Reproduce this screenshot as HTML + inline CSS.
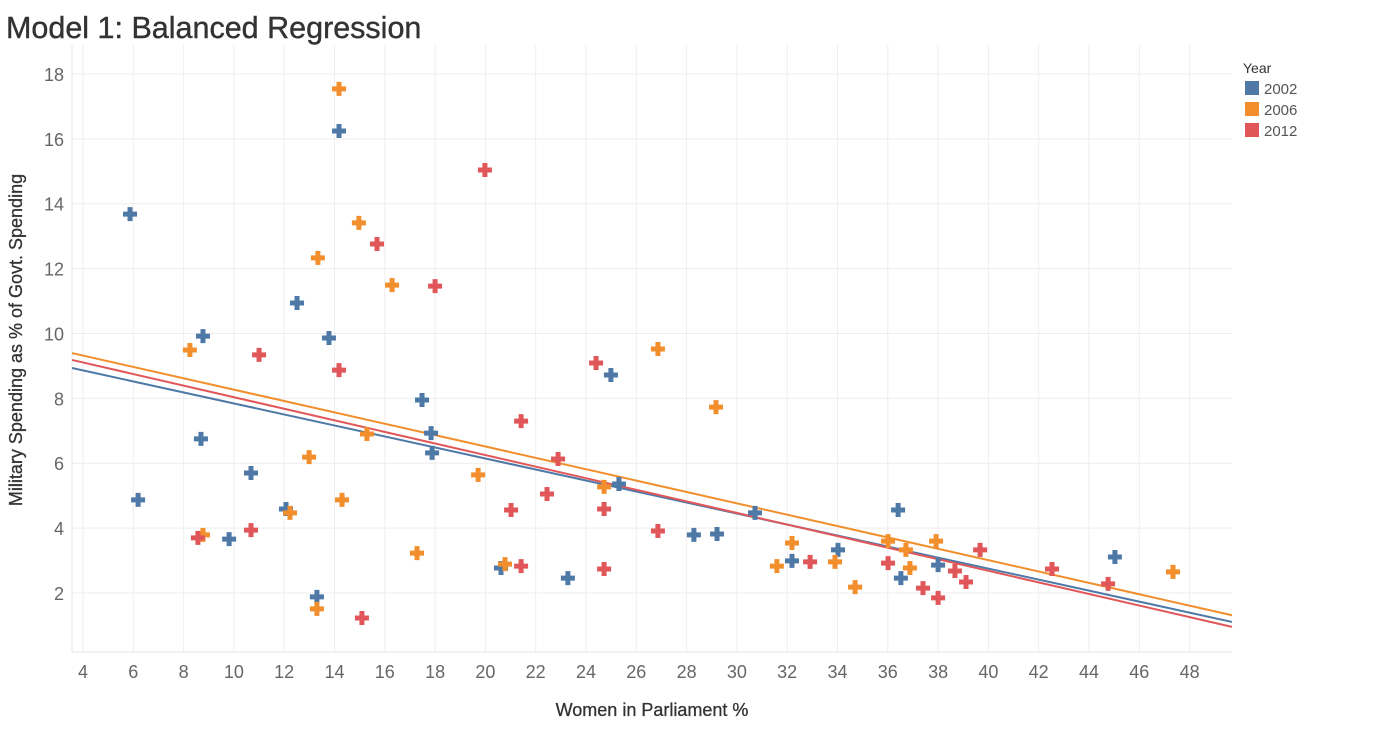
<!DOCTYPE html>
<html><head><meta charset="utf-8">
<style>
body{margin:0;background:#fff;font-family:"Liberation Sans",sans-serif;}
svg text{font-family:"Liberation Sans",sans-serif;}
</style></head>
<body>
<svg id="chart" width="1382" height="729">
<text x="6" y="38" font-size="30.5" fill="#333" stroke="#333" stroke-width="0.4">Model 1: Balanced Regression</text>
<g id="grid"></g><g id="axes"></g><g id="lines"></g><g id="marks"></g>
<text x="652" y="716" text-anchor="middle" font-size="18" fill="#333" stroke="#333" stroke-width="0.3">Women in Parliament %</text>
<text transform="translate(22,340) rotate(-90)" text-anchor="middle" font-size="18" fill="#333" stroke="#333" stroke-width="0.3">Military Spending as % of Govt. Spending</text>
<g>
<text x="1243" y="73" font-size="14" fill="#333">Year</text>
<rect x="1245" y="81" width="14" height="14" fill="#4e79a7"/>
<text x="1264" y="94" font-size="15" fill="#555">2002</text>
<rect x="1245" y="102" width="14" height="14" fill="#f28e2b"/>
<text x="1264" y="115" font-size="15" fill="#555">2006</text>
<rect x="1245" y="123" width="14" height="14" fill="#e15759"/>
<text x="1264" y="136" font-size="15" fill="#555">2012</text>
</g>
</svg>
<script>
const xTicks=[4,6,8,10,12,14,16,18,20,22,24,26,28,30,32,34,36,38,40,42,44,46,48];
const yTicks=[2,4,6,8,10,12,14,16,18];
const years=["2002","2006","2012"];
const colors=["#4e79a7","#f28e2b","#e15759"];
const x2002=[5.87,6.19,8.77,8.69,9.81,10.68,12.07,12.51,13.30,14.18,13.78,17.48,17.84,17.88,20.62,23.28,24.99,25.31,30.72,28.29,29.21,32.19,34.02,36.41,36.52,38.0,45.03];
const y2002=[13.68,4.87,9.92,6.75,3.66,5.70,4.59,10.94,1.88,16.24,9.86,7.95,6.93,6.32,2.77,2.46,8.72,5.36,4.47,3.79,3.82,2.99,3.33,4.56,2.46,2.86,3.11];
const x2006=[8.25,8.77,12.23,12.99,13.34,13.30,14.18,14.30,14.97,15.29,16.29,17.28,19.71,20.78,24.72,26.86,29.17,31.59,32.19,33.90,34.70,36.01,36.72,36.88,37.92,47.34];
const y2006=[9.49,3.79,4.47,6.19,12.33,1.51,17.54,4.87,13.41,6.90,11.49,3.23,5.64,2.89,5.27,9.52,7.73,2.83,3.54,2.96,2.18,3.60,3.33,2.77,3.60,2.65];
const x2012=[8.57,11.0,10.68,14.18,15.09,15.69,18.0,19.98,21.02,21.42,21.42,22.45,22.89,24.40,24.72,24.72,26.86,32.91,36.01,37.40,38.0,38.67,39.11,39.67,42.53,44.76];
const y2012=[3.70,9.34,3.94,8.87,1.23,12.76,11.46,15.04,4.56,7.30,2.83,5.05,6.13,9.09,4.59,2.74,3.91,2.96,2.92,2.15,1.85,2.68,2.34,3.33,2.74,2.28];
const slopes=[-0.1697,-0.1752,-0.1784];
const intercepts=[9.54,10.02,9.82];

const L=72,R=1232,T=45,B=652;
const X=v=>83+(v-4)*25.15;
const Y=v=>593-(v-2)*32.44;
const xMin=4-(83-L)/25.15, xMax=4+(R-83)/25.15;
const NS="http://www.w3.org/2000/svg";
function mk(tag,attrs,parent){const e=document.createElementNS(NS,tag);for(const k in attrs)e.setAttribute(k,attrs[k]);document.getElementById(parent).appendChild(e);return e;}
xTicks.forEach(t=>{
 const g=mk('line',{x1:X(t),x2:X(t),y1:T,y2:B,stroke:'#eeeeee','stroke-width':1},'grid');
 
 
 const tx=mk('text',{x:X(t),y:B+26,'text-anchor':'middle','font-size':18,fill:'#666'},'axes');
 tx.textContent=t;
 
 
});
yTicks.forEach(t=>{
 const g=mk('line',{x1:L,x2:R,y1:Y(t),y2:Y(t),stroke:'#eeeeee','stroke-width':1},'grid');
 
 
 const tx=mk('text',{x:64,y:Y(t)+7,'text-anchor':'end','font-size':18,fill:'#666'},'axes');
 tx.textContent=t;
 
 
});
const ax=mk('line',{x1:L,x2:R,y1:B,y2:B,stroke:'#e4e4e4'},'axes');


const ay=mk('line',{x1:L,x2:L,y1:T,y2:B,stroke:'#e4e4e4'},'axes');


const xs=[x2002,x2006,x2012], ys=[y2002,y2006,y2012];
[0,1,2].forEach(i=>{
 const ln=mk('line',{x1:L,x2:R,y1:Y(intercepts[i]+slopes[i]*xMin),y2:Y(intercepts[i]+slopes[i]*xMax),stroke:colors[i],'stroke-width':2},'lines');
 
 
});
[0,1,2].forEach(i=>{
 xs[i].forEach((v,j)=>{
  const cx=X(v), cy=Y(ys[i][j]);
  const p=mk('path',{d:`M${cx-2.5},${cy-7}h5v4.5h4.5v5h-4.5v4.5h-5v-4.5h-4.5v-5h4.5z`,fill:colors[i]},'marks');
  
  
 });
});
</script>
</body></html>
